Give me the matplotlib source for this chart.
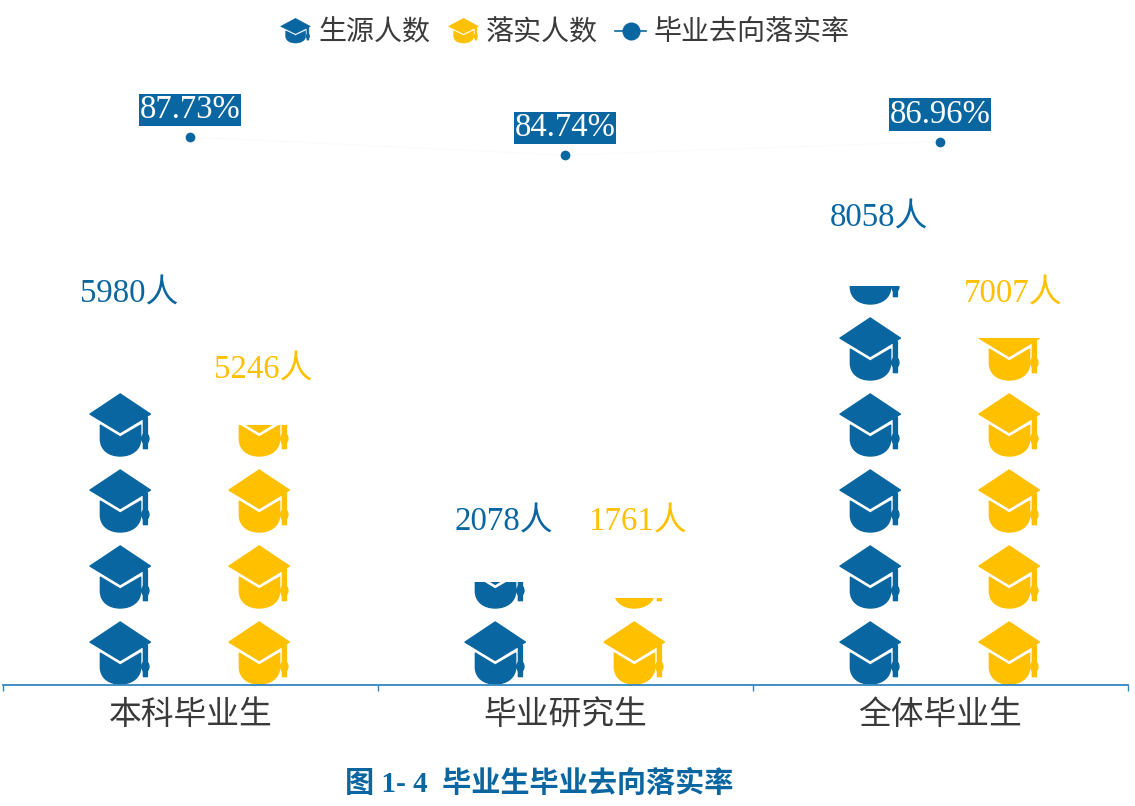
import math

import matplotlib
matplotlib.use('Agg')
import matplotlib.pyplot as plt
from matplotlib.patches import PathPatch, Rectangle
from matplotlib.path import Path
from matplotlib.transforms import Affine2D

# data
categories = ['本科毕业生', '毕业研究生', '全体毕业生']
source_counts = [5980, 2078, 8058]
placed_counts = [5246, 1761, 7007]
placed_rates = [87.73, 84.74, 86.96]
legend_names = ['生源人数', '落实人数', '毕业去向落实率']
caption = '图 1- 4  毕业生毕业去向落实率'

BLUE = '#0a66a0'
YELLOW = '#ffc000'
AXIS_BLUE = '#2f86c0'
TEXT = '#3a3a3a'
SERIF_CJK = ['Liberation Serif', 'Noto Sans CJK SC']

W, H = 1135, 806
BASE_PX = 685
TOP_PX = 60
UNITS_PER_PX = 1 / 0.0495     # bar scale measured from the clipped caps
PERIOD = 76 * UNITS_PER_PX    # spacing of the tiled caps
CAP_H = 63 * UNITS_PER_PX
CAP_W = 63 / 375              # in category widths
BAR_OFFSET = 0.1853
NUDGE_X = -0.8 / 375          # marks sit a hair left of the tick centres
RATE_PX = 6.02                # px per percentage point


def cap_path():
    """Graduation cap in a unit square, y pointing up."""
    M, L, C, Z = Path.MOVETO, Path.LINETO, Path.CURVE4, Path.CLOSEPOLY
    board = [(.5, .985), (.98, .665), (.5, .375), (.02, .665), (.5, .985)]
    board_c = [M, L, L, L, Z]
    body = [(.185, .49), (.5, .30), (.825, .49), (.825, .27),
            (.825, .10), (.68, 0), (.5, 0),
            (.32, 0), (.185, .10), (.185, .27), (.185, .49)]
    body_c = [M, L, L, L, C, C, C, C, C, C, Z]
    string = [(.868, .61), (.932, .61), (.932, .117), (.868, .117), (.868, .61)]
    string_c = [M, L, L, L, Z]
    bulb = [(.9, .38), (.975, .31), (.975, .24), (.9, .175),
            (.825, .24), (.825, .31), (.9, .38)]
    bulb_c = [M, C, C, C, C, C, C]
    return Path(board + body + string + bulb, board_c + body_c + string_c + bulb_c)


CAP = cap_path()


def draw_stack(ax, x, value, color):
    clip = Rectangle((x - CAP_W, -UNITS_PER_PX), 2 * CAP_W, value + UNITS_PER_PX,
                     transform=ax.transData)
    for i in range(math.ceil(value / PERIOD)):
        tf = Affine2D().scale(CAP_W, CAP_H).translate(x - CAP_W / 2,
                                                      i * PERIOD + UNITS_PER_PX)
        patch = PathPatch(CAP, facecolor=color, edgecolor=color, lw=1.0,
                          joinstyle='round', transform=tf + ax.transData, zorder=2)
        ax.add_patch(patch)
        patch.set_clip_path(clip)


def count_label(ax, x, value, color, shift_px):
    # labels sit on whole rows of the tile grid above the stack
    rows = math.ceil(value / 1450) + 0.2
    ax.text(x + shift_px / 375, rows * PERIOD - 4 * UNITS_PER_PX, f'{value}人', color=color,
            fontsize=23.7, family=SERIF_CJK, ha='center', va='center')


fig = plt.figure(figsize=(W / 100, H / 100), dpi=100)
ax = fig.add_axes([3 / W, (H - BASE_PX) / H, 1125 / W, (BASE_PX - TOP_PX) / H])
ax.set_xlim(-0.5, 2.5)
ax.set_ylim(0, (BASE_PX - TOP_PX) * UNITS_PER_PX)

for i in range(len(categories)):
    draw_stack(ax, i - BAR_OFFSET + NUDGE_X, source_counts[i], BLUE)
    draw_stack(ax, i + BAR_OFFSET + NUDGE_X, placed_counts[i], YELLOW)
    count_label(ax, i - BAR_OFFSET, source_counts[i], BLUE, 8)
    count_label(ax, i + BAR_OFFSET, placed_counts[i], YELLOW, 3)

for side in ['top', 'left', 'right']:
    ax.spines[side].set_visible(False)
ax.spines['bottom'].set_color(AXIS_BLUE)
ax.spines['bottom'].set_linewidth(1.3)
ax.spines['bottom'].set_zorder(5)
ax.set_yticks([])
ax.set_xticks([-0.5, 0.5, 1.5, 2.5])
ax.set_xticklabels([])
ax.tick_params(axis='x', which='major', color=AXIS_BLUE, length=4.5, width=1)
ax.set_xticks(range(len(categories)), minor=True)
ax.set_xticklabels(categories, minor=True, fontsize=23.6, color=TEXT,
                   family='Noto Sans CJK SC')
ax.tick_params(axis='x', which='minor', length=0, pad=10)

# rate line on its own scale, almost invisible in the original
rate_ax = ax.twinx()
rate_ax.set_xlim(ax.get_xlim())
rate_bottom = placed_rates[0] - (BASE_PX - 137) / RATE_PX
rate_ax.set_ylim(rate_bottom, rate_bottom + (BASE_PX - TOP_PX) / RATE_PX)
rate_ax.set_yticks([])
rate_ax.patch.set_visible(False)
for side in rate_ax.spines:
    rate_ax.spines[side].set_visible(False)
rate_x = [i + NUDGE_X for i in range(len(categories))]
rate_ax.plot(rate_x, placed_rates, color='#fbfbfc', lw=1, zorder=1)
rate_ax.plot(rate_x, placed_rates, ls='none', marker='o', ms=7, color=BLUE, mec='none')
for x, r in zip(rate_x, placed_rates):
    rate_ax.annotate(f'{r:.2f}%', (x, r), xytext=(0.2, 19.6), textcoords='offset points',
                     ha='center', va='center', fontsize=23.6, color='white',
                     family='Liberation Serif',
                     bbox=dict(boxstyle='square,pad=0.03', fc=BLUE, ec='none'))


# legend, laid out in figure pixels
def legend_cap(x_px, color):
    tf = Affine2D().scale(31, 25).translate(x_px, H - 43)
    fig.add_artist(PathPatch(CAP, facecolor=color, edgecolor=color, lw=0.4, transform=tf))


def legend_text(x_px, s):
    fig.text(x_px / W, 1 - 33 / H, s, fontsize=20.2, color=TEXT,
             family='Noto Sans CJK SC', ha='left', va='center')


legend_cap(280, BLUE)
legend_text(318.5, legend_names[0])
legend_cap(448, YELLOW)
legend_text(485.5, legend_names[1])
fig.add_artist(plt.Line2D([615 / W, 646 / W], [1 - 31 / H] * 2, color=BLUE, lw=1.2,
                          transform=fig.transFigure))
fig.add_artist(plt.Line2D([630.5 / W], [1 - 31 / H], ls='none', marker='o', ms=13,
                          color=BLUE, mec='none', transform=fig.transFigure))
legend_text(654, legend_names[2])

fig.text(539 / W, 1 - 784 / H, caption, fontsize=21, color=BLUE, fontweight='bold',
         family=SERIF_CJK, ha='center', va='center')

fig.savefig('out.png', dpi=100)
